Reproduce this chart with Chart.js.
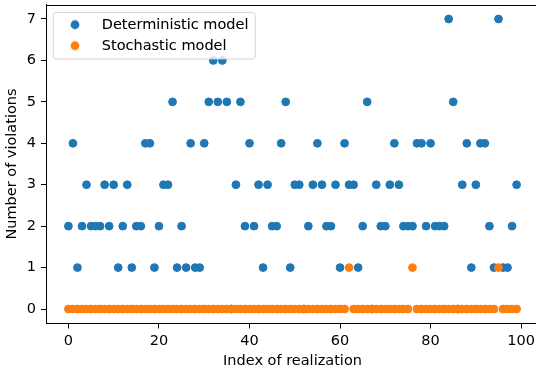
<!DOCTYPE html>
<html><head><meta charset="utf-8">
<script src="https://cdn.jsdelivr.net/npm/chart.js@4/dist/chart.umd.min.js"></script>
<style>html,body{margin:0;padding:0;background:#fff;overflow:hidden;width:536px;height:373px}#c{display:block}</style>
</head><body><canvas id="c" width="539" height="373"></canvas>
<script>
// ---- data ----
const realizationIndex = [0,1,2,3,4,5,6,7,8,9,10,11,12,13,14,15,16,17,18,19,20,21,22,23,24,25,26,27,28,29,30,31,32,33,34,35,36,37,38,39,40,41,42,43,44,45,46,47,48,49,50,51,52,53,54,55,56,57,58,59,60,61,62,63,64,65,66,67,68,69,70,71,72,73,74,75,76,77,78,79,80,81,82,83,84,85,86,87,88,89,90,91,92,93,94,95,96,97,98,99];
const deterministicViolations = [2,4,1,2,3,2,2,2,3,2, 3,1,2,3,1,2,2,4,4,1, 2,3,3,5,1,2,1,4,1,1, 4,5,6,5,6,5,0,3,5,2, 4,2,3,1,3,2,2,4,5,1, 3,3,0,2,3,4,3,2,2,3, 1,4,3,3,1,2,5,0,3,2, 2,3,4,3,2,2,2,4,4,2, 4,2,2,2,7,5,0,3,4,1, 3,4,4,2,1,7,1,1,2,3];
const stochasticViolations = [0,0,0,0,0,0,0,0,0,0, 0,0,0,0,0,0,0,0,0,0, 0,0,0,0,0,0,0,0,0,0, 0,0,0,0,0,0,0,0,0,0, 0,0,0,0,0,0,0,0,0,0, 0,0,0,0,0,0,0,0,0,0, 0,0,1,0,0,0,0,0,0,0, 0,0,0,0,0,0,1,0,0,0, 0,0,0,0,0,0,0,0,0,0, 0,0,0,0,0,1,0,0,0,0];
const seriesNames = ['Deterministic model', 'Stochastic model'];
const xTickValues = [0,20,40,60,80,100];
const yTickValues = [0,1,2,3,4,5,6,7];
const xTitle = 'Index of realization';
const yTitle = 'Number of violations';

// ---- style ----
const FS = 14.5;
const BLUE = '#1f77b4', ORANGE = '#ff7f0e';
Chart.defaults.font.family = "'DejaVu Sans', sans-serif";
Chart.defaults.font.size = FS;
Chart.defaults.color = '#000';

function markerCanvas(color){
  const c = document.createElement('canvas');
  c.width = 12; c.height = 12;
  const g = c.getContext('2d');
  g.fillStyle = color; g.beginPath(); g.arc(6,6,4.4,0,Math.PI*2); g.fill();
  return c;
}

const LEG_PAD = 6.5, LEG_W = 39;
const framePlugin = {
  id: 'framePlugin',
  afterLayout(chart){
    const lg = chart.legend, ca = chart.chartArea;
    lg.left = ca.left + 3; lg.top = ca.top + 6.5;
    lg.right = lg.left + 230; lg.bottom = lg.top + 60;
  },
  afterDatasetsDraw(chart){
    const lg = chart.legend, ctx = chart.ctx;
    const markerX = lg.left + LEG_PAD + LEG_W/2;
    const textX = lg.left + LEG_PAD + LEG_W + FS/2;
    const cy1 = lg.top + LEG_PAD + FS/2;
    ctx.save();
    ctx.font = FS + "px 'DejaVu Sans'";
    let tw = 0; seriesNames.forEach(s => tw = Math.max(tw, ctx.measureText(s).width));
    const x0 = markerX - 21.7, x1 = textX + tw + 6.7;
    const y0 = cy1 - 12.3, y1 = cy1 + 21 + 13.3;
    ctx.beginPath();
    if (ctx.roundRect) ctx.roundRect(x0, y0, x1-x0, y1-y0, 3); else ctx.rect(x0, y0, x1-x0, y1-y0);
    ctx.fillStyle = 'rgba(255,255,255,0.8)'; ctx.fill();
    ctx.lineWidth = 1; ctx.strokeStyle = 'rgba(204,204,204,0.8)'; ctx.stroke();
    ctx.restore();
    lg.draw();
    ctx.beginPath();
  },
  afterDraw(chart){
    const ca = chart.chartArea, ctx = chart.ctx;
    ctx.save(); ctx.strokeStyle = '#000'; ctx.lineWidth = 1;
    ctx.beginPath();
    ctx.moveTo(ca.left, Math.round(ca.top)+0.5); ctx.lineTo(chart.width, Math.round(ca.top)+0.5);
    ctx.stroke(); ctx.restore();
  }
};

new Chart(document.getElementById('c'), {
  type: 'scatter',
  data: {
    datasets: [
      { label: seriesNames[0], data: realizationIndex.map((x,i)=>({x, y: deterministicViolations[i]})),
        backgroundColor: BLUE, borderColor: BLUE, borderWidth: 1, pointRadius: 3.9, order: 1 },
      { label: seriesNames[1], data: realizationIndex.map((x,i)=>({x, y: stochasticViolations[i]})),
        backgroundColor: ORANGE, borderColor: ORANGE, borderWidth: 1, pointRadius: 3.9, order: 0 }
    ]
  },
  options: {
    responsive: false, animation: false, devicePixelRatio: 1,
    layout: { autoPadding: false, padding: { top: 4.5, right: 0, left: 0, bottom: 0 } },
    plugins: {
      tooltip: { enabled: false },
      legend: {
        position: 'chartArea', align: 'start',
        labels: {
          usePointStyle: true, pointStyleWidth: LEG_W, padding: LEG_PAD, textAlign: 'left', color: '#000',
          font: { size: FS },
          generateLabels(chart){
            const items = Chart.defaults.plugins.legend.labels.generateLabels(chart);
            items.sort((a,b)=>a.datasetIndex-b.datasetIndex);
            items.forEach(it => { it.pointStyle = markerCanvas(chart.data.datasets[it.datasetIndex].backgroundColor); });
            return items;
          }
        }
      }
    },
    scales: {
      x: {
        type: 'linear', min: -4.95, max: 103.95,
        afterBuildTicks(s){ s.ticks = xTickValues.map(v=>({value:v})); },
        afterFit(s){ s.height = 49.5; s.paddingLeft = 0; s.paddingRight = 0; s.paddingTop = 0; s.paddingBottom = 0; },
        ticks: { padding: 4, color: '#000', font: { size: FS }, includeBounds: false },
        grid: { display: true, drawOnChartArea: false, drawTicks: true, tickLength: 5, tickColor: '#000', lineWidth: 1 },
        border: { display: true, color: '#000', width: 1 },
        title: { display: true, text: xTitle, color: '#000', font: { size: FS }, padding: { top: 3, bottom: 3 } }
      },
      y: {
        type: 'linear', min: -0.35, max: 7.35,
        afterBuildTicks(s){ s.ticks = yTickValues.map(v=>({value:v})); },
        afterFit(s){ s.width = 46; s.paddingLeft = 0; s.paddingRight = 0; s.paddingTop = 0; s.paddingBottom = 0; },
        ticks: { padding: 5, color: '#000', font: { size: FS }, includeBounds: false },
        grid: { display: true, drawOnChartArea: false, drawTicks: true, tickLength: 5, tickColor: '#000', lineWidth: 1 },
        border: { display: true, color: '#000', width: 1 },
        title: { display: true, text: yTitle, color: '#000', font: { size: FS }, padding: { top: 4, bottom: 4 } }
      }
    }
  },
  plugins: [framePlugin]
});
</script>
</body></html>
